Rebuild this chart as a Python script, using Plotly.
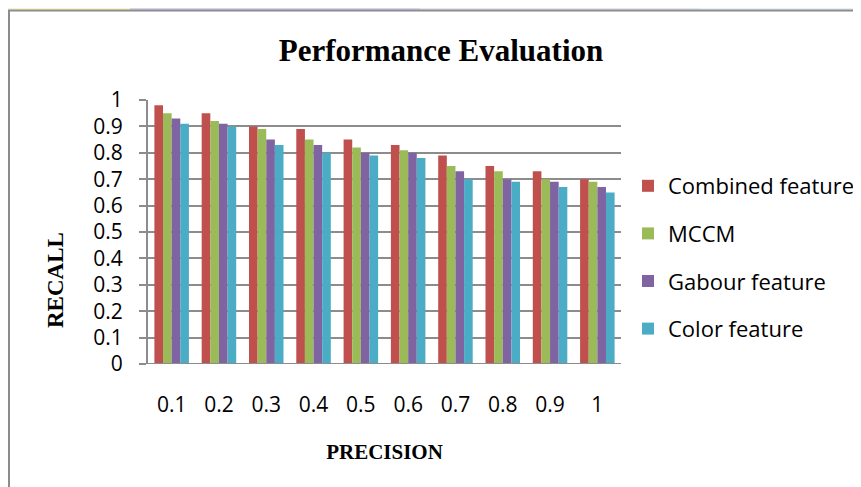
import plotly.graph_objects as go

categories = ["0.1", "0.2", "0.3", "0.4", "0.5", "0.6", "0.7", "0.8", "0.9", "1"]
combined = [0.98, 0.95, 0.90, 0.89, 0.85, 0.83, 0.79, 0.75, 0.73, 0.70]
mccm = [0.95, 0.92, 0.89, 0.85, 0.82, 0.81, 0.75, 0.73, 0.70, 0.69]
gabour = [0.93, 0.91, 0.85, 0.83, 0.80, 0.80, 0.73, 0.70, 0.69, 0.67]
color_feat = [0.91, 0.90, 0.83, 0.80, 0.79, 0.78, 0.70, 0.69, 0.67, 0.65]

series = [
    ("Combined feature", combined, "#C0504D"),
    ("MCCM", mccm, "#9BBB59"),
    ("Gabour feature", gabour, "#8064A2"),
    ("Color feature", color_feat, "#4BACC6"),
]

W, H = 861, 487
L, R, T, B = 140, 613, 92, 356

fig = go.Figure()
for name, vals, col in series:
    fig.add_trace(go.Bar(x=categories, y=vals, name=name, marker_color=col,
                         marker_line_width=0, legendgroup=name))

def px(x):
    return (x - L) / (R - L)

def py(y):
    return (B - y) / (B - T)

shapes = []
strip = [(0, 122, "#FBF3C8"), (122, 412, "#D6D3F5"), (412, 692, "#E2E6F8"), (692, 861, "#E4F2FA")]
for x0, x1, c in strip:
    shapes.append(dict(type="rect", xref="paper", yref="paper", x0=px(x0), x1=px(x1),
                       y0=py(2), y1=py(0), fillcolor=c, line_width=0, layer="below"))
shapes.append(dict(type="line", xref="paper", yref="paper", x0=px(0), x1=px(861), y0=py(2.5), y1=py(2.5),
                   line=dict(color="#8C8C8C", width=2)))
shapes.append(dict(type="line", xref="paper", yref="paper", x0=px(1), x1=px(1), y0=py(2), y1=py(487),
                   line=dict(color="#8C8C8C", width=2)))
shapes.append(dict(type="line", xref="paper", yref="y", x0=0, x1=1, y0=0, y1=0,
                   line=dict(color="#8C8C8C", width=2)))

fig.update_layout(
    width=W, height=H, autosize=False,
    margin=dict(l=L, r=W - R, t=T, b=H - B, autoexpand=False),
    paper_bgcolor="white", plot_bgcolor="white",
    barmode="group", bargap=0.27, bargroupgap=0,
    title=dict(text="<b>Performance Evaluation</b>", x=433 / W, xref="container", xanchor="center",
               y=1 - 42 / H, yref="container", yanchor="middle",
               font=dict(family="Liberation Serif", size=31, color="black")),
    font=dict(family="Open Sans", color="black"),
    xaxis=dict(showline=False, ticks="", tickfont=dict(size=21, family="Open Sans"),
               ticklabelstandoff=26, showgrid=False,
               title=dict(text="<b>PRECISION</b>", font=dict(family="Liberation Serif", size=21), standoff=27)),
    yaxis=dict(range=[0, 1], dtick=0.1, tick0=0, showgrid=True, gridcolor="#8C8C8C", gridwidth=1.5,
               showline=True, linecolor="#8C8C8C", linewidth=2, zeroline=False,
               ticks="outside", ticklen=7, tickcolor="#8C8C8C", tickwidth=1.5,
               tickfont=dict(size=21, family="Open Sans"), ticklabelstandoff=12),
    legend=dict(x=620 / W, xref="container", xanchor="left", y=1 - 157 / H, yref="container", yanchor="top",
                font=dict(size=22, family="Open Sans"), tracegroupgap=16,
                bgcolor="rgba(0,0,0,0)"),
    shapes=shapes,
)
fig.add_annotation(text="<b>RECALL</b>", textangle=-90, xref="paper", yref="paper",
                   x=px(47), y=py(272), xanchor="center", yanchor="middle", showarrow=False,
                   font=dict(family="Liberation Serif", size=23, color="black"))

fig.write_html("out.html")
